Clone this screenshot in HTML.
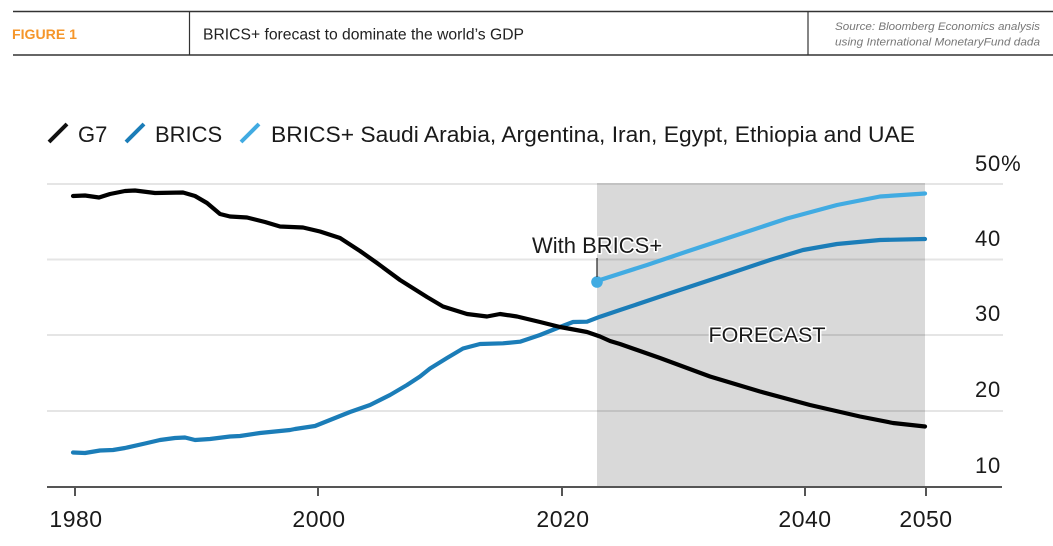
<!DOCTYPE html>
<html>
<head>
<meta charset="utf-8">
<style>
  html, body { margin:0; padding:0; background:#fff; }
  body { width:1053px; height:546px; overflow:hidden; position:relative; }
  svg { position:absolute; left:0; top:0; }
  text { font-family: "Liberation Sans", Arial, sans-serif; }
</style>
</head>
<body>
<svg width="1053" height="546" viewBox="0 0 1053 546" xmlns="http://www.w3.org/2000/svg">
  <!-- Header -->
  <line x1="13" y1="11.5" x2="1053" y2="11.5" stroke="#333" stroke-width="1.5"/>
  <line x1="13" y1="55" x2="1053" y2="55" stroke="#333" stroke-width="1.5"/>
  <line x1="189.5" y1="11.5" x2="189.5" y2="55" stroke="#333" stroke-width="1.2"/>
  <line x1="808" y1="11.5" x2="808" y2="55" stroke="#333" stroke-width="1.2"/>
  <text x="12" y="39" font-size="14" font-weight="bold" fill="#f5962a" textLength="65" lengthAdjust="spacingAndGlyphs">FIGURE 1</text>
  <text x="203" y="39.5" font-size="15.5" fill="#222" textLength="321" lengthAdjust="spacingAndGlyphs">BRICS+ forecast to dominate the world’s GDP</text>
  <text x="835" y="30" font-size="11" font-style="italic" fill="#777" textLength="205" lengthAdjust="spacingAndGlyphs">Source: Bloomberg Economics analysis</text>
  <text x="835" y="45.5" font-size="11" font-style="italic" fill="#777" textLength="205" lengthAdjust="spacingAndGlyphs">using International MonetaryFund dada</text>

  <!-- Legend -->
  <line x1="49" y1="142" x2="67" y2="124" stroke="#111" stroke-width="4"/>
  <text x="78" y="142" font-size="22" fill="#1a1a1a">G7</text>
  <line x1="126" y1="142" x2="144" y2="124" stroke="#1b7db8" stroke-width="4"/>
  <text x="155" y="142" font-size="22" fill="#1a1a1a">BRICS</text>
  <line x1="241" y1="142" x2="259" y2="124" stroke="#41abe2" stroke-width="4"/>
  <text x="271" y="142" font-size="22" fill="#1a1a1a" textLength="644" lengthAdjust="spacingAndGlyphs">BRICS+ Saudi Arabia, Argentina, Iran, Egypt, Ethiopia and UAE</text>

  <!-- Forecast shade -->
  <rect x="597" y="183" width="328" height="304" fill="#d9d9d9"/>

  <!-- Gridlines -->
  <g stroke="rgba(0,0,0,0.1)" stroke-width="2">
    <line x1="47" y1="184" x2="1003" y2="184"/>
    <line x1="47" y1="259.5" x2="1003" y2="259.5"/>
    <line x1="47" y1="335" x2="1003" y2="335"/>
    <line x1="47" y1="411" x2="1003" y2="411"/>
  </g>

  <!-- Axis -->
  <line x1="47" y1="487" x2="1002" y2="487" stroke="#555" stroke-width="2"/>
  <g stroke="#555" stroke-width="2">
    <line x1="75" y1="487" x2="75" y2="496"/>
    <line x1="318" y1="487" x2="318" y2="496"/>
    <line x1="562" y1="487" x2="562" y2="496"/>
    <line x1="805" y1="487" x2="805" y2="496"/>
    <line x1="926" y1="487" x2="926" y2="496"/>
  </g>

  <!-- X labels -->
  <g font-size="23" fill="#1a1a1a" text-anchor="middle" letter-spacing="0.5">
    <text x="76" y="527">1980</text>
    <text x="319" y="527">2000</text>
    <text x="563" y="527">2020</text>
    <text x="805" y="527">2040</text>
    <text x="926" y="527">2050</text>
  </g>

  <!-- Y labels -->
  <g font-size="22" fill="#1a1a1a" letter-spacing="0.8">
    <text x="975" y="171">50%</text>
    <text x="975" y="246">40</text>
    <text x="975" y="321">30</text>
    <text x="975" y="397">20</text>
    <text x="975" y="473">10</text>
  </g>

  <!-- FORECAST label -->
  <text x="767" y="342" font-size="21.5" fill="#1a1a1a" text-anchor="middle" stroke="#fff" stroke-width="3" paint-order="stroke" stroke-linejoin="round">FORECAST</text>

  <!-- BRICS series -->
  <polyline fill="none" stroke="#1b7db8" stroke-width="4.2" stroke-linejoin="round" stroke-linecap="round"
    points="73,452.5 85,453 100,450.5 113,450 125,448 145,443.5 160,440 175,438 185,437.5 195,440 210,439 230,436.5 240,436 260,433 290,430 295,429 315,426 330,420 350,412 370,405 390,395 407,385 420,376.5 430,368.5 447,358 463,348.5 480,344 503,343.3 520,341.7 540,335 560,327 573,322 587,321.7 600,316.7 620,310 670,293.3 720,276.7 770,260 803,250 837,244 880,240 925,239"/>

  <!-- G7 series -->
  <polyline fill="none" stroke="#000" stroke-width="4.2" stroke-linejoin="round" stroke-linecap="round"
    points="73,196 85,195.5 99,197.5 110,194 125,191 135,190.5 155,193 183,192.5 195,196 207,203 220,214 230,216.5 247,217.5 265,222 280,226.5 303,227.5 320,231.5 340,238 360,251 377,263 400,280 427,297 443,306.5 467,314 487,316.5 500,314 517,316.5 540,322 560,327 587,332 600,336.5 610,341 620,344 660,358 710,376.5 760,391.5 810,405 860,416.5 893,423 925,426.5"/>

  <!-- BRICS+ series -->
  <polyline fill="none" stroke="#41abe2" stroke-width="4.2" stroke-linejoin="round" stroke-linecap="round"
    points="597,282 600,280 647,265 687,251.5 737,235 787,218.5 837,205 880,196.5 925,193.5"/>
  <circle cx="597" cy="282" r="5.8" fill="#41abe2"/>
  <line x1="597" y1="258" x2="597" y2="277" stroke="#222" stroke-width="1.2"/>
  <text x="532" y="253" font-size="22" fill="#1a1a1a" stroke="#fff" stroke-width="3" paint-order="stroke" stroke-linejoin="round">With BRICS+</text>
</svg>
</body>
</html>
